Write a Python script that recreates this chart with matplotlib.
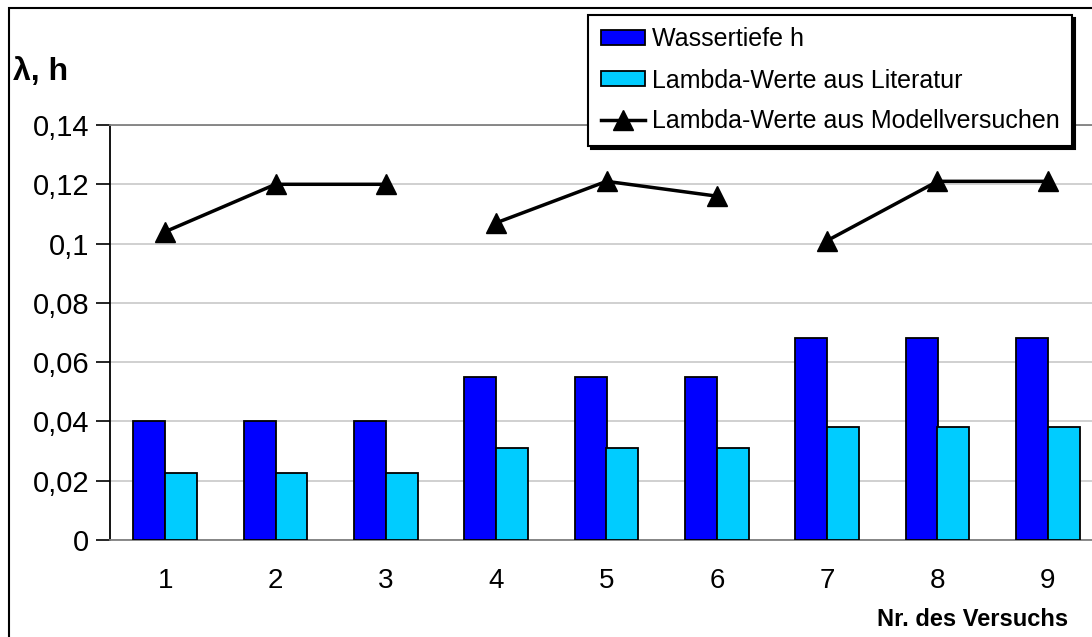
import matplotlib.pyplot as plt
from matplotlib.patches import Patch, Rectangle
from matplotlib.lines import Line2D
import numpy as np

plt.rcParams['font.family'] = ['Liberation Sans', 'DejaVu Sans']

versuche = ['1', '2', '3', '4', '5', '6', '7', '8', '9']
wassertiefe = [0.04, 0.04, 0.04, 0.055, 0.055, 0.055, 0.068, 0.068, 0.068]
lambda_lit = [0.0225, 0.0225, 0.0225, 0.031, 0.031, 0.031, 0.038, 0.038, 0.038]
lambda_modell = [0.104, 0.12, 0.12, 0.107, 0.121, 0.116, 0.101, 0.121, 0.121]
y_ticks = [0, 0.02, 0.04, 0.06, 0.08, 0.1, 0.12, 0.14]
y_labels = ['0', '0,02', '0,04', '0,06', '0,08', '0,1', '0,12', '0,14']

fig = plt.figure(figsize=(10.92, 6.37), dpi=100)
ax = fig.add_axes([110/1092, 97/637, 993/1092, 415/637])

x = np.arange(len(versuche))
w = 0.29
ax.bar(x - w/2, wassertiefe, w, color='#0000ff', edgecolor='black', linewidth=1.3, zorder=3)
ax.bar(x + w/2, lambda_lit, w, color='#00ccff', edgecolor='black', linewidth=1.3, zorder=3)

# line is drawn in groups of three (one per water depth)
for i in range(0, 9, 3):
    ax.plot(x[i:i+3], lambda_modell[i:i+3], color='black', lw=2.5,
            marker='^', markersize=15, zorder=4, clip_on=False)

ax.set_xlim(-0.5, 8.5)
ax.set_ylim(0, 0.14)
ax.set_yticks(y_ticks)
ax.set_yticklabels(y_labels, fontsize=21)
ax.set_xticks(x)
ax.set_xticklabels(versuche, fontsize=20)
ax.tick_params(axis='y', length=10, width=1.2, pad=5)
ax.tick_params(axis='x', length=0, pad=20)
ax.yaxis.grid(True, color='#c8c8c8', lw=1.2, zorder=0)
ax.set_axisbelow(True)
ax.spines['left'].set_linewidth(1.3)
ax.spines['top'].set_color('#808080')
ax.spines['top'].set_linewidth(1.3)
ax.spines['bottom'].set_color('#808080')
ax.spines['bottom'].set_linewidth(1.3)
ax.spines['right'].set_visible(False)

fig.text(13/1092, 1 - 72/637, 'λ, h', fontsize=23, fontweight='bold', va='center', ha='left')
fig.text(1068/1092, 1 - 619/637, 'Nr. des Versuchs', fontsize=17, fontweight='bold',
         va='center', ha='right')

handles = [Patch(facecolor='#0000ff', edgecolor='black', lw=1.3),
           Patch(facecolor='#00ccff', edgecolor='black', lw=1.3),
           Line2D([], [], color='black', lw=2.5, marker='^', markersize=15)]
labels = ['Wassertiefe h', 'Lambda-Werte aus Literatur', 'Lambda-Werte aus Modellversuchen']
leg = fig.legend(handles, labels, loc='upper left', bbox_to_anchor=(588/1092, 1 - 15/637),
                 fontsize=18, frameon=True, fancybox=False, borderaxespad=0,
                 handlelength=1.76, handleheight=0.55, handletextpad=0.3,
                 labelspacing=0.68, borderpad=0.5,
                 shadow={'color': 'black', 'alpha': 1})
leg.get_frame().set_edgecolor('black')
leg.get_frame().set_linewidth(1.5)
leg.set_zorder(10)

# outer chart frame
fig.patches.append(Rectangle((9/1092, -0.1), 1.2, 1 - 8/637 + 0.1, transform=fig.transFigure,
                             fill=False, edgecolor='black', lw=1.5))

fig.savefig('out.png', dpi=100)
